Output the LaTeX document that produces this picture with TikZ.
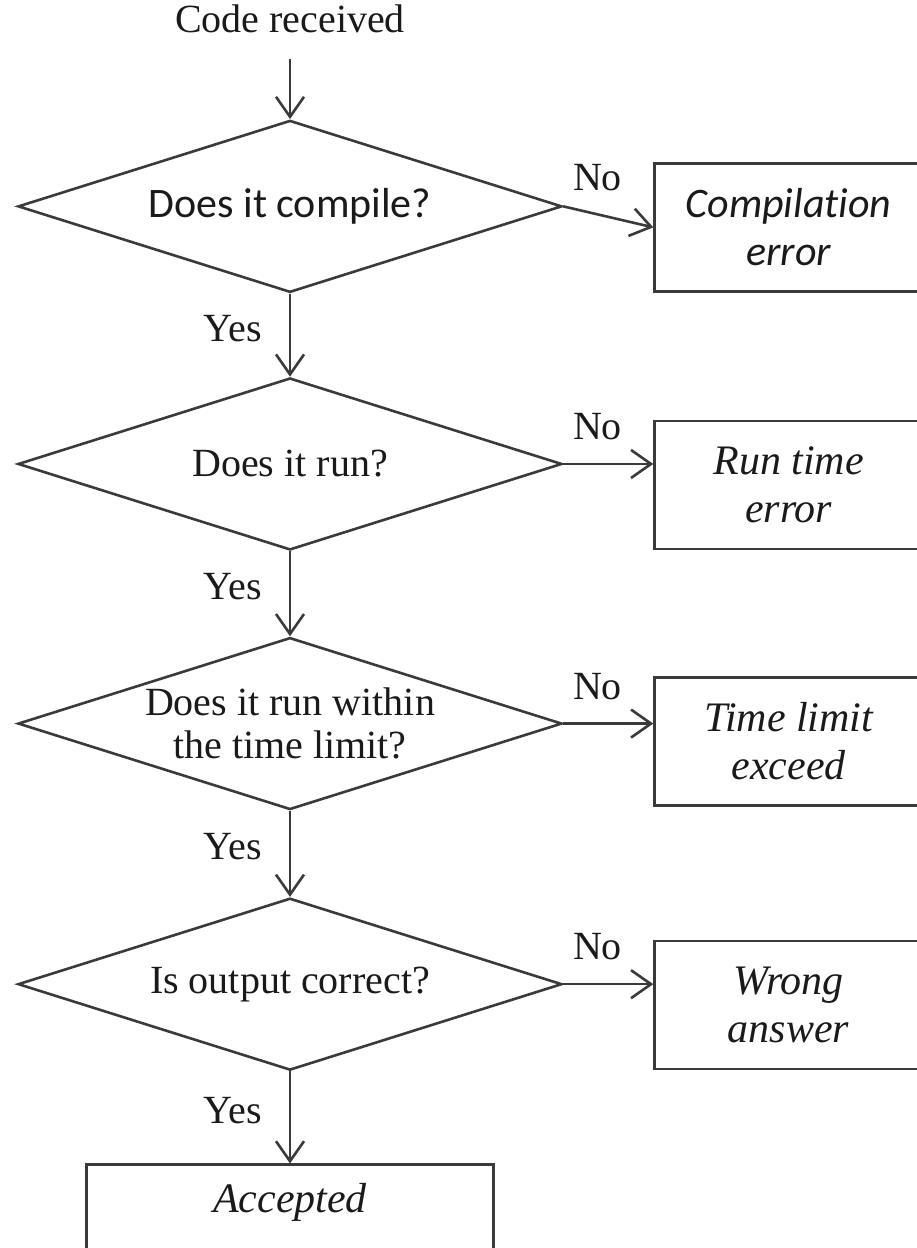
\documentclass[tikz,border=0pt]{standalone}
\usepackage{fontspec}
\setmainfont{Liberation Serif}
\newfontfamily\carlito[Ligatures=NoCommon]{Carlito}
\usepackage{tikz}
\usetikzlibrary{positioning, arrows.meta, shapes.geometric}
\definecolor{cLine}{HTML}{3A3A3A}
\definecolor{cText}{HTML}{1A1A1A}
\tikzset{
  decision/.style={
    diamond, shape aspect=3.16, draw=cLine, line width=1.3pt,
    minimum width=272pt, minimum height=86pt, inner sep=0pt,
    text=cText, font=\fontsize{20}{21.5}\selectfont, align=center
  },
  outcome/.style={
    rectangle, draw=cLine, line width=1.3pt, minimum width=134pt,
    minimum height=64pt, text=cText,
    font=\fontsize{21}{24}\selectfont\itshape, align=center
  },
  arrow/.style={-{Straight Barb[length=10pt, width=14pt]}, line width=1.3pt, color=cLine},
  flowtext/.style={text=cText, font=\fontsize{20}{24}\selectfont, inner sep=3.3pt},
  yeslabel/.style={flowtext, pos=0.42, left=10pt},
  nolabel/.style={flowtext, pos=0.38, above=8pt},
}
\begin{document}
\begin{tikzpicture}[x=0.5pt, y=-0.5pt]
  \useasboundingbox (0,0) rectangle (916,1248);

  \node[flowtext] (start) at (290,19) {Code received};

  \node[decision, below=39.5pt of start, font=\carlito\fontsize{21}{24}\selectfont] (compile)
    {Does it compile?};
  \node[decision, below=41.5pt of compile] (run)
    {Does it run?};
  \node[decision, below=42.5pt of run] (timelimit)
    {Does it run within\\the time\ limit?};
  \node[decision, below=43pt of timelimit] (correct)
    {Is output correct?};

  \node[outcome, right=45pt of compile, yshift=-10.5pt,
        font=\carlito\itshape\fontsize{21}{24}\selectfont] (cerr)
    {Compilation\\error};
  \node[outcome, right=45pt of run, yshift=-10.5pt] (rerr)
    {Run time\\error};
  \node[outcome, right=45pt of timelimit, yshift=-9pt] (tle)
    {Time limit\\exceed};
  \node[outcome, right=45pt of correct, yshift=-10.5pt] (wrong)
    {Wrong\\answer};

  \node[outcome, below=46pt of correct, minimum width=203.5pt,
        text height=17pt, text depth=35pt, inner ysep=7pt] (accepted)
    {Accepted};

  \draw[arrow, shorten <=9.5pt] (start) -- (compile);
  \draw[arrow] (compile)   -- node[yeslabel] {Yes} (run);
  \draw[arrow] (run)       -- node[yeslabel] {Yes} (timelimit);
  \draw[arrow] (timelimit) -- node[yeslabel] {Yes} (correct);
  \draw[arrow] (correct)   -- node[yeslabel] {Yes} (accepted);

  \draw[arrow] (compile.east)   -- node[nolabel] {No} (cerr.west);
  \draw[arrow] (run.east)       -- node[nolabel] {No} (run.east -| rerr.west);
  \draw[arrow] (timelimit.east) -- node[nolabel] {No} (timelimit.east -| tle.west);
  \draw[arrow] (correct.east)   -- node[nolabel] {No} (correct.east -| wrong.west);

\end{tikzpicture}
\end{document}
